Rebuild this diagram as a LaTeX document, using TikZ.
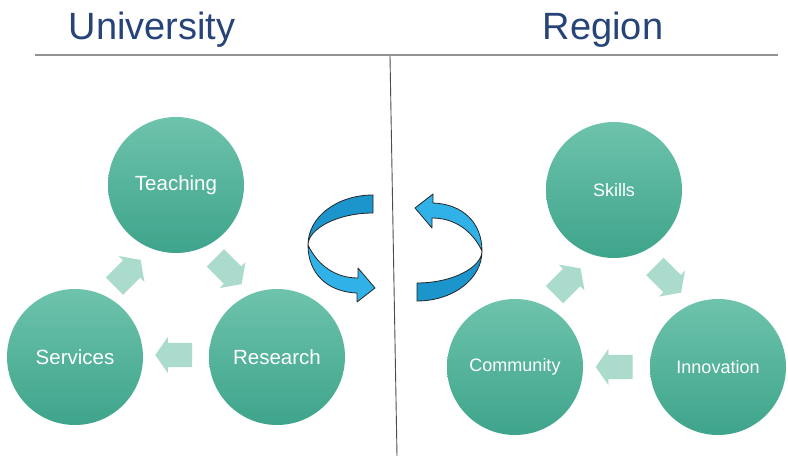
\documentclass[tikz,border=0pt]{standalone}
\usepackage{fontspec}
\setmainfont{Liberation Sans}
\usetikzlibrary{shapes.arrows,calc}
\definecolor{titleblue}{RGB}{38,68,120}
\definecolor{tealtop}{RGB}{110,195,172}
\definecolor{tealbot}{RGB}{62,164,139}
\definecolor{palearrow}{RGB}{170,219,204}
\definecolor{ribbondark}{RGB}{28,148,204}
\definecolor{ribbonlight}{RGB}{48,178,232}
\newcommand{\myribbon}{%
  \filldraw[ribbonface, fill=ribbondark] (373,195) .. controls (337,195) and (308,217) .. (308,245)
     .. controls (308,229) and (337,213) .. (373,213) -- cycle;
  \filldraw[ribbonface, fill=ribbonlight] (308,245) .. controls (318,266) and (336,278) .. (358,278)
     -- (358,268) -- (375,288) -- (357,302) -- (357,293)
     .. controls (328,292) and (308,274) .. (308,245) -- cycle;
}
\begin{document}
\begin{tikzpicture}[x=1pt,y=-1pt,
  bubble/.style={circle, minimum size=136pt, inner sep=0pt, top color=tealtop, bottom color=tealbot, draw=none, text=white},
  bigtxt/.style={font=\fontsize{20.5}{24}\selectfont},
  smalltxt/.style={font=\fontsize{18}{21}\selectfont},
  flowarrow/.style={single arrow, draw=none, fill=palearrow, minimum height=37pt, inner sep=12pt, single arrow head extend=6pt, single arrow tip angle=110},
  title/.style={font=\fontsize{38}{44}\selectfont, text=titleblue, anchor=base, inner sep=0pt},
  ribbonface/.style={draw=black!85, line width=0.8pt, line join=round}]
\useasboundingbox (0,0) rectangle (788,458);
\fill[white] (0,0) rectangle (788,458);
% titles and dividers
\node[title] (tuni) at (152,39) {University};
\node[title] (treg) at (603,39) {Region};
\draw[line width=2pt, gray!85] (35,55) -- (778,55);
\draw[line width=0.9pt, black!70] (390,56) -- (397,456);
% university circles
\node[bubble, bigtxt] (teach) at (176,185) {Teaching};
\node[bubble, bigtxt] (serv) at (75,357) {Services};
\node[bubble, bigtxt] (res) at (277,357) {Research};
% region circles
\node[bubble, smalltxt] (skills) at (614,190) {Skills};
\node[bubble, smalltxt] (comm) at (515,367) {Community};
\node[bubble, smalltxt] (innov) at (718,367) {Innovation};
% flow arrows
\node[flowarrow, rotate=-45] (a1) at ($(teach)!0.5!(res)+(-1,-3)$) {};
\node[flowarrow, rotate=180] (a2) at ($(res)!0.5!(serv)+(2,-2)$) {};
\node[flowarrow, rotate=45] (a3) at ($(serv)!0.5!(teach)+(-1,5)$) {};
\node[flowarrow, rotate=-45] (b1) at ($(skills)!0.5!(innov)+(-1,-2)$) {};
\node[flowarrow, rotate=180] (b2) at ($(innov)!0.5!(comm)+(2,0)$) {};
\node[flowarrow, rotate=45] (b3) at ($(comm)!0.5!(skills)+(0,6)$) {};
% circular ribbons
\myribbon
\begin{scope}[rotate around={180:(395,248)}]
\myribbon
\end{scope}
\end{tikzpicture}
\end{document}
